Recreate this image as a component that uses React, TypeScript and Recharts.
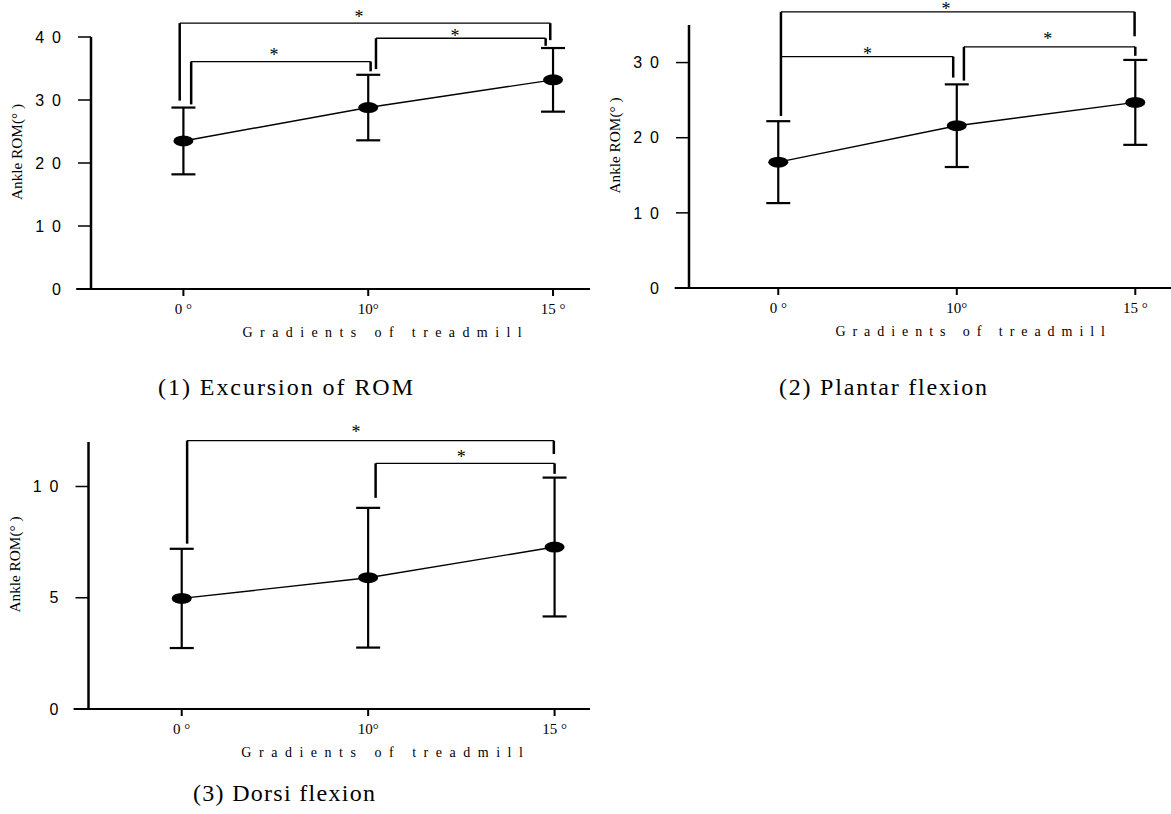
import React from "react";
import {
  ComposedChart,
  Line,
  ErrorBar,
  XAxis,
  YAxis,
  ReferenceLine,
  ReferenceDot,
} from "recharts";

// category labels on the x axis (the three treadmill gradients)
const xLabels = ["0 °", "10°", "15 °"];

// mean and SD of ankle ROM
const excursionMean = [23.5, 28.8, 33.2];
const excursionSd = [5.3, 5.2, 5.05];
const plantarMean = [16.75, 21.6, 24.7];
const plantarSd = [5.45, 5.5, 5.65];
const dorsiMean = [4.97, 5.9, 7.28];
const dorsiSd = [2.23, 3.14, 3.12];

const excursionTicks = [0, 10, 20, 30, 40];
const plantarTicks = [0, 10, 20, 30];
const dorsiTicks = [0, 5, 10];

// significance brackets: x1/x2 in category index, y = bar level, y1/y2 = ends of the legs
const excursionBrackets = [
  { x1: -0.02, x2: 1.985, y: 42.2, y1: 29.9, y2: 39.5 },
  { x1: 0.042, x2: 1.013, y: 36.1, y1: 29.3, y2: 34.55 },
  { x1: 1.042, x2: 1.96, y: 39.8, y1: 34.9, y2: 38.6 },
];
const excursionStars = [
  { x: 0.95, y: 43.6 },
  { x: 0.49, y: 37.6 },
  { x: 1.47, y: 40.7 },
];

const plantarBrackets = [
  { x1: 0.015, x2: 1.996, y: 36.75, y1: 22.9, y2: 33.5 },
  { x1: 0.015, x2: 0.98, y: 30.8, y1: 30.8, y2: 28.0 },
  { x1: 1.04, x2: 2.0, y: 32.1, y1: 27.6, y2: 30.9 },
];
const plantarStars = [
  { x: 0.94, y: 37.5 },
  { x: 0.5, y: 31.5 },
  { x: 1.51, y: 33.5 },
];

const dorsiBrackets = [
  { x1: 0.029, x2: 1.996, y: 12.06, y1: 7.43, y2: 11.46 },
  { x1: 1.04, x2: 2.0, y: 11.04, y1: 9.49, y2: 10.57 },
];
const dorsiStars = [
  { x: 0.935, y: 12.58 },
  { x: 1.5, y: 11.46 },
];

const X_MIN = -0.5;
const X_AXIS_START = -0.58;

const rowsOf = (mean: number[], sd: number[]) =>
  xLabels.map((_, i) => ({ pos: i, mean: mean[i], sd: sd[i] }));

// the figure prints the digits of tick labels apart: "4 0"
const spaced = (v: number) => String(v).split("").join("\u2002");

const renderDot = (p: any) => (
  <ellipse key={`d${p.index}`} cx={p.cx} cy={p.cy} rx={10} ry={5.5} fill="#000" />
);

type PanelProps = {
  mean: number[];
  sd: number[];
  yMax: number;
  yTicks: number[];
  xMax: number;
  brackets: { x1: number; x2: number; y: number; y1: number; y2: number }[];
  stars: { x: number; y: number }[];
  width: number;
  height: number;
  top: number;
  plotLeft: number;
  plotBottom: number;
};

const Panel: React.FC<PanelProps> = ({
  mean,
  sd,
  yMax,
  yTicks,
  xMax,
  brackets,
  stars,
  width,
  height,
  top,
  plotLeft,
  plotBottom,
}) => {
  const data = rowsOf(mean, sd);
  const yAxisWidth = 70;
  const xAxisHeight = height - plotBottom;

  const yLabel = (props: any) => {
    const vb = props.viewBox;
    const cx = vb.x + vb.width - 74;
    const cy = vb.y + vb.height / 2 - 11;
    return (
      <text
        x={cx}
        y={cy}
        transform={`rotate(-90 ${cx} ${cy})`}
        textAnchor="middle"
        dominantBaseline="central"
        fontFamily="Liberation Serif"
        fontSize={15}
        fill="#000"
        textLength={96}
        lengthAdjust="spacingAndGlyphs"
      >
        Ankle ROM(°  )
      </text>
    );
  };

  const xLabel = (props: any) => {
    const vb = props.viewBox;
    const ppu = vb.width / (xMax - X_MIN);
    const x0 = vb.x + (0.32 - X_MIN) * ppu;
    return (
      <text
        x={x0}
        y={vb.y + 43}
        dominantBaseline="central"
        fontFamily="Liberation Serif"
        fontSize={14}
        fill="#000"
        textLength={1.51 * ppu}
        lengthAdjust="spacing"
      >
        Gradients of treadmill
      </text>
    );
  };

  return (
    <ComposedChart
      width={width}
      height={height}
      data={data}
      margin={{ top, right: 0, bottom: 0, left: plotLeft - yAxisWidth }}
      style={{ overflow: "visible" }}
    >
      <XAxis
        type="number"
        dataKey="pos"
        domain={[X_MIN, xMax]}
        ticks={[0, 1, 2]}
        allowDataOverflow
        tickFormatter={(i: number) => xLabels[i]}
        axisLine={false}
        tickLine={{ stroke: "#000", strokeWidth: 2 }}
        tickSize={7}
        tickMargin={7}
        height={xAxisHeight}
        tick={{ fill: "#000", fontFamily: "Liberation Serif", fontSize: 15 }}
        label={xLabel}
      />
      <YAxis
        type="number"
        domain={[0, yMax]}
        ticks={yTicks}
        allowDataOverflow
        width={yAxisWidth}
        tickFormatter={spaced}
        axisLine={{ stroke: "#000", strokeWidth: 2.5 }}
        tickLine={{ stroke: "#000", strokeWidth: 1.5 }}
        tickSize={13}
        tickMargin={17}
        tick={{ fill: "#000", fontFamily: "Liberation Sans", fontSize: 16 }}
        label={yLabel}
      />
      <ReferenceLine
        segment={[
          { x: X_AXIS_START, y: 0 },
          { x: xMax, y: 0 },
        ]}
        stroke="#000"
        strokeWidth={2}
        ifOverflow="visible"
      />
      {brackets.map((b, i) => [
        <ReferenceLine
          key={`h${i}`}
          segment={[
            { x: b.x1, y: b.y },
            { x: b.x2, y: b.y },
          ]}
          stroke="#000"
          strokeWidth={1.3}
          ifOverflow="visible"
        />,
        <ReferenceLine
          key={`l${i}`}
          segment={[
            { x: b.x1, y: b.y },
            { x: b.x1, y: b.y1 },
          ]}
          stroke="#000"
          strokeWidth={2.5}
          ifOverflow="visible"
        />,
        <ReferenceLine
          key={`r${i}`}
          segment={[
            { x: b.x2, y: b.y },
            { x: b.x2, y: b.y2 },
          ]}
          stroke="#000"
          strokeWidth={2.5}
          ifOverflow="visible"
        />,
      ])}
      {stars.map((s, i) => (
        <ReferenceDot
          key={`s${i}`}
          x={s.x}
          y={s.y}
          r={0}
          ifOverflow="visible"
          shape={(p: any) => (
            <text
              x={p.cx}
              y={p.cy + 9}
              textAnchor="middle"
              fontFamily="Liberation Serif"
              fontSize={18}
              fill="#000"
            >
              *
            </text>
          )}
        />
      ))}
      <Line
        dataKey="mean"
        stroke="#000"
        strokeWidth={1.4}
        dot={renderDot}
        activeDot={false}
        isAnimationActive={false}
      >
        <ErrorBar dataKey="sd" direction="y" width={12} stroke="#000" strokeWidth={2.2} />
      </Line>
    </ComposedChart>
  );
};

const captionStyle = {
  fontFamily: "Liberation Serif",
  fontSize: 24,
  fill: "#000",
};

export default function App() {
  return (
    <div
      style={{
        position: "absolute",
        left: 0,
        top: 0,
        width: 1171,
        height: 814,
        background: "#fff",
        overflow: "hidden",
      }}
    >
      <div style={{ position: "absolute", left: 0, top: 0 }}>
        <Panel
          mean={excursionMean}
          sd={excursionSd}
          yMax={40}
          yTicks={excursionTicks}
          xMax={2.2}
          brackets={excursionBrackets}
          stars={excursionStars}
          width={590}
          height={400}
          top={37}
          plotLeft={91}
          plotBottom={289}
        />
      </div>
      <div style={{ position: "absolute", left: 600, top: 0 }}>
        <Panel
          mean={plantarMean}
          sd={plantarSd}
          yMax={35}
          yTicks={plantarTicks}
          xMax={2.2}
          brackets={plantarBrackets}
          stars={plantarStars}
          width={571}
          height={400}
          top={25}
          plotLeft={89}
          plotBottom={288}
        />
      </div>
      <div style={{ position: "absolute", left: 0, top: 400 }}>
        <Panel
          mean={dorsiMean}
          sd={dorsiSd}
          yMax={12}
          yTicks={dorsiTicks}
          xMax={2.19}
          brackets={dorsiBrackets}
          stars={dorsiStars}
          width={590}
          height={400}
          top={42}
          plotLeft={88.5}
          plotBottom={309}
        />
      </div>
      <svg
        width={1171}
        height={814}
        style={{ position: "absolute", left: 0, top: 0, pointerEvents: "none" }}
      >
        <text x={158} y={395} textLength={255} lengthAdjust="spacing" {...captionStyle}>
          (1) Excursion of ROM
        </text>
        <text x={779} y={395} textLength={208} lengthAdjust="spacing" {...captionStyle}>
          (2) Plantar flexion
        </text>
        <text x={193} y={801} textLength={182} lengthAdjust="spacing" {...captionStyle}>
          (3) Dorsi flexion
        </text>
      </svg>
    </div>
  );
}
